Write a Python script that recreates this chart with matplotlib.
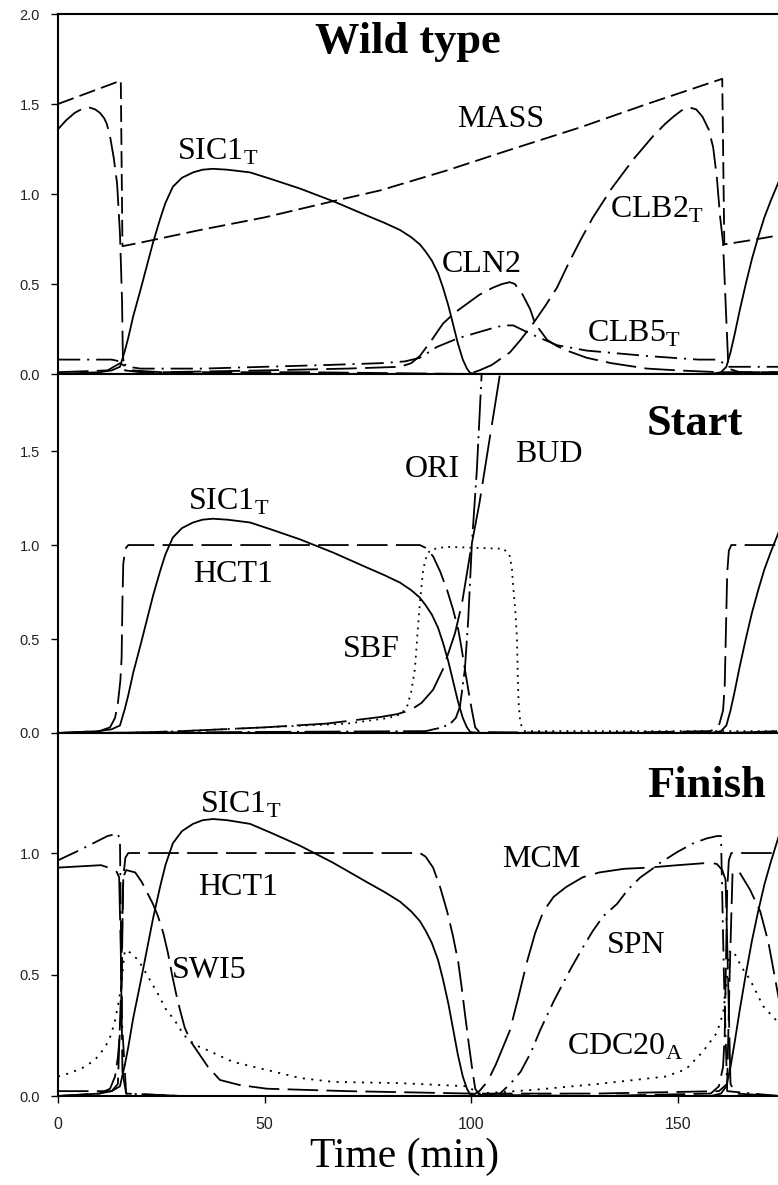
import numpy as np
import matplotlib
matplotlib.use("Agg")
import matplotlib.pyplot as plt

plt.rcParams['font.family'] = ['Liberation Serif', 'DejaVu Serif']
plt.rcParams['mathtext.fontset'] = 'custom'
plt.rcParams['mathtext.rm'] = 'Liberation Serif'
plt.rcParams['lines.scale_dashes'] = False

nan = float('nan')

# ---- Wild type panel ----
mass_t = [0, 15.2, 15.6, 20, 34.4, 50, 66.6, 78, 94, 110, 126.4, 142.6, 160.8, 161.3, 166.8, 174.5]
mass_v = [1.50, 1.63, 0.71, 0.73, 0.80, 0.87, 0.96, 1.02, 1.13, 1.25, 1.37, 1.50, 1.64, 0.72, 0.74, 0.77]

clb2_t = [0, 2, 4, 6, 7.7, 9, 10.2, 11.2, 11.8, 12.6, 13.5, 14.3, 15.0, 15.5, 15.7, 16.2, 20, 60,
          99.4, 102, 105, 107.5, 109.4, 112, 115, 118, 120.8, 123.5, 126.4, 129.5, 134, 139.2, 144,
          147, 149, 151, 153, 154.5, 156, 157.5, 158.6, 159.5, 160.3, 161, 161.7, 162.3, 165, 174.5]
clb2_v = [1.36, 1.41, 1.45, 1.475, 1.48, 1.47, 1.45, 1.42, 1.39, 1.32, 1.20, 1.06, 0.78, 0.41, 0.10,
          0.02, 0.01, 0.01, 0.0, 0.02, 0.05, 0.09, 0.12, 0.19, 0.28, 0.38, 0.48, 0.61, 0.74, 0.87, 1.03,
          1.19, 1.32, 1.39, 1.43, 1.465, 1.48, 1.47, 1.43, 1.36, 1.26, 1.09, 0.87, 0.73, 0.35, 0.03,
          0.01, 0.01]

sic1_t = [0, 10, 13, 15, 16.2, 17, 18.2, 20, 21.5, 23, 24.7, 26, 27.8, 30, 32.7, 35, 37.5, 41, 46.5,
          52, 58.6, 66.6, 74.8, 79, 82.8, 85.5, 87.6, 89, 90.5, 92, 93.2, 94.5, 95.6, 96.8, 98, 99,
          99.8, 102, 130, 158, 160.5, 161.8, 162.8, 163.8, 165, 166.5, 168, 169.5, 171, 172.5, 174.5]
sic1_v = [0.0, 0.01, 0.02, 0.04, 0.13, 0.20, 0.32, 0.47, 0.60, 0.73, 0.86, 0.95, 1.04, 1.09, 1.12,
          1.135, 1.14, 1.135, 1.12, 1.08, 1.03, 0.96, 0.88, 0.84, 0.80, 0.76, 0.72, 0.68, 0.63, 0.56,
          0.48, 0.38, 0.28, 0.17, 0.08, 0.03, 0.005, 0.0, 0.0, 0.0, 0.01, 0.04, 0.12, 0.22, 0.35, 0.50,
          0.64, 0.76, 0.87, 0.96, 1.07]

cln2_t = [0, 12, 15, 18, 25, 50, 70, 82.8, 85.5, 87.6, 90.5, 93.2, 96, 99, 102, 105.3, 107.5, 109.4,
          110.6, 112.5, 114.3, 115.5, 118.4, 120.8, 123.2, 128, 134, 142.6, 150, 160, 163, 174.5]
cln2_v = [0.01, 0.02, 0.06, 0.02, 0.01, 0.02, 0.03, 0.04, 0.06, 0.10, 0.19, 0.28, 0.34, 0.39, 0.44,
          0.48, 0.50, 0.51, 0.50, 0.44, 0.36, 0.28, 0.19, 0.155, 0.13, 0.09, 0.06, 0.03, 0.02, 0.01,
          0.01, 0.01]

clb5_t = [0, 13, 15, 17, 20, 35, 50, 65, 78, 84, 87.6, 91.7, 97, 103, 106, 108, 110.2, 112, 113.8,
          115.7, 120.8, 128, 142.6, 155, 160, 162, 164, 174.5]
clb5_v = [0.08, 0.08, 0.07, 0.04, 0.03, 0.03, 0.04, 0.05, 0.06, 0.07, 0.09, 0.15, 0.20, 0.24, 0.26,
          0.27, 0.27, 0.25, 0.23, 0.21, 0.16, 0.13, 0.10, 0.08, 0.08, 0.04, 0.04, 0.04]

# ---- Start panel ----
hct1_t = [0, 10, 12.6, 13.8, 14.5, 15.1, 15.4, 15.6, 15.8, 16.3, 17, 30, 60, 87.6, 89, 90.8, 92.5,
          94.2, 95.6, 96.9, 97.7, 98.5, 99.4, 100.2, 101, 102, 130, 158, 160, 161, 161.4, 161.7,
          162, 162.4, 163, 174.5]
hct1_v = [0.0, 0.01, 0.03, 0.08, 0.16, 0.28, 0.40, 0.70, 0.90, 0.98, 1.0, 1.0, 1.0, 1.0, 0.985, 0.94,
          0.86, 0.76, 0.66, 0.55, 0.45, 0.34, 0.22, 0.12, 0.03, 0.005, 0.0, 0.01, 0.04, 0.12, 0.25,
          0.55, 0.85, 0.97, 1.0, 1.0]

sbf_t = [0, 16, 30, 50, 70, 80, 83, 84.5, 85.5, 86.4, 87, 87.6, 88.4, 89.2, 90, 92, 95, 107.8, 108.8,
         109.4, 109.9, 110.2, 110.7, 111.1, 111.3, 111.5, 111.9, 112.3, 113, 140, 160, 174.5]
sbf_v = [0.0, 0.0, 0.01, 0.03, 0.05, 0.08, 0.10, 0.14, 0.22, 0.34, 0.52, 0.69, 0.87, 0.94, 0.97, 0.985,
         0.99, 0.98, 0.96, 0.94, 0.87, 0.78, 0.65, 0.51, 0.30, 0.16, 0.06, 0.03, 0.01, 0.01, 0.01, 0.01]

bud_t = [0, 16, 30, 50, 65, 78, 82, 85.2, 88, 90.8, 93.2, 96.1, 97.8, 100.2, 102, 104.6, 107, 108,
         150, 162, 174.5]
bud_v = [0, 0, 0.01, 0.03, 0.05, 0.085, 0.10, 0.12, 0.16, 0.23, 0.34, 0.53, 0.69, 1.01, 1.22, 1.58,
         1.91, 2.05, nan, 0.0, 0.01]

ori_t = [0, 89, 93, 95, 96.3, 97.3, 98.5, 99.3, 100.2, 101.4, 102.6, 103, 150, 162, 174.5]
ori_v = [0, 0.01, 0.03, 0.05, 0.08, 0.14, 0.34, 0.60, 1.01, 1.40, 1.93, 2.05, nan, 0.0, 0.0]

# ---- Finish panel ----
mcm_t = [0, 10.4, 14, 14.8, 15.2, 15.6, 16.5, 30, 60, 100, 100.5, 102, 104, 106, 109.4, 111.5, 113.5,
         115.5, 117.5, 120, 123, 127, 131, 137, 143, 150, 157.9, 159.5, 160.8, 161.6, 162.2, 162.8,
         164, 174.5]
mcm_v = [0.94, 0.95, 0.93, 0.90, 0.6, 0.1, 0.01, 0.0, 0.0, 0.0, 0.005, 0.02, 0.06, 0.13, 0.27, 0.41,
         0.55, 0.67, 0.76, 0.82, 0.86, 0.90, 0.92, 0.935, 0.94, 0.95, 0.96, 0.955, 0.93, 0.89, 0.5,
         0.05, 0.01, 0.0]

spn_t = [0, 5, 12, 14.5, 15.0, 15.5, 16.5, 30, 60, 100, 107, 109.5, 112, 114.5, 116.7, 120, 124, 127,
         129.5, 132, 135.3, 138, 141, 143.5, 145.8, 150, 153.8, 157, 159.6, 160.5, 161.2, 162, 174.5]
spn_v = [0.97, 1.01, 1.07, 1.08, 1.05, 0.3, 0.01, 0.0, 0.0, 0.0, 0.01, 0.05, 0.10, 0.18, 0.27, 0.39,
         0.52, 0.61, 0.68, 0.74, 0.79, 0.85, 0.90, 0.93, 0.96, 1.005, 1.04, 1.06, 1.07, 1.07, 0.5, 0.02,
         0.0]

swi5_t = [0, 13, 14.5, 15.2, 15.8, 16.5, 18.7, 20.3, 21.8, 23, 24.2, 25.5, 26.6, 27.6, 28.6, 29.6,
          30.7, 32.3, 33.9, 36.3, 39.2, 44, 50.6, 70, 100, 130, 160, 162, 162.6, 163.3, 165, 167.5,
          170, 172, 174.5]
swi5_v = [0.02, 0.02, 0.05, 0.4, 0.9, 0.93, 0.92, 0.88, 0.83, 0.79, 0.74, 0.67, 0.59, 0.50, 0.42,
          0.35, 0.28, 0.22, 0.18, 0.12, 0.066, 0.045, 0.03, 0.02, 0.01, 0.01, 0.02, 0.05, 0.5, 0.92,
          0.92, 0.85, 0.76, 0.63, 0.40]

cdc20_t = [0, 3, 6.5, 9, 11.4, 12.8, 13.8, 14.6, 15.3, 15.8, 16.2, 17.5, 19.4, 21.5, 24.2, 26, 28.3,
           30.5, 33.2, 36, 42.4, 50.6, 58.6, 66.6, 82.8, 99, 101, 102, 115, 131, 147, 152, 156, 159.5,
           161, 161.8, 162.3, 162.7, 164, 165.5, 167.5, 170.7, 174.5]
cdc20_v = [0.08, 0.095, 0.12, 0.15, 0.20, 0.25, 0.31, 0.38, 0.45, 0.54, 0.60, 0.59, 0.56, 0.50, 0.42,
           0.36, 0.31, 0.25, 0.21, 0.19, 0.14, 0.107, 0.074, 0.058, 0.053, 0.04, 0.02, 0.01, 0.025,
           0.05, 0.08, 0.11, 0.18, 0.26, 0.34, 0.45, 0.56, 0.60, 0.58, 0.53, 0.48, 0.37, 0.30]

xticks = [0, 50, 100, 150]
yticks_wt = [0.0, 0.5, 1.0, 1.5, 2.0]
yticks_start = [0.0, 0.5, 1.0, 1.5]
yticks_finish = [0.0, 0.5, 1.0]

# line styles
SOLID = '-'
LONG = (0, (22, 6))
MED = (0, (12, 4.5))
VLONG = (0, (36, 7))
DASHDOT = (0, (16, 5, 1.5, 5))
DASHDOT_L = (0, (26, 4, 1.5, 4))
DOT = (0, (1.3, 3.8))
DOT2 = (0, (1.5, 4.6))

fig = plt.figure(figsize=(7.78, 11.85), dpi=100)
left = 58 / 778
width = 720 / 778
ax1 = fig.add_axes([left, 1 - 374 / 1185, width, 360 / 1185])
ax2 = fig.add_axes([left, 1 - 733 / 1185, width, 359 / 1185])
ax3 = fig.add_axes([left, 1 - 1096 / 1185, width, 363 / 1185])

lw = 1.3
kw = dict(color='black', lw=lw)

ax1.plot(mass_t, mass_v, ls=MED, **kw)
ax1.plot(clb2_t, clb2_v, ls=LONG, **kw)
ax1.plot(sic1_t, sic1_v, ls=SOLID, **kw)
ax1.plot(cln2_t, cln2_v, ls=LONG, **kw)
ax1.plot(clb5_t, clb5_v, ls=DASHDOT, **kw)

ax2.plot(sic1_t, sic1_v, ls=SOLID, **kw)
ax2.plot(hct1_t, hct1_v, ls=LONG, **kw)
ax2.plot(sbf_t, sbf_v, ls=DOT, **kw)
ax2.plot(bud_t, bud_v, ls=VLONG, **kw)
ax2.plot(ori_t, ori_v, ls=DASHDOT_L, **kw)

ax3.plot(sic1_t, sic1_v, ls=SOLID, **kw)
ax3.plot(hct1_t, hct1_v, ls=LONG, **kw)
ax3.plot(mcm_t, mcm_v, ls=VLONG, **kw)
ax3.plot(spn_t, spn_v, ls=DASHDOT, **kw)
ax3.plot(swi5_t, swi5_v, ls=LONG, **kw)
ax3.plot(cdc20_t, cdc20_v, ls=DOT2, **kw)

for ax, yt, ylim in [(ax1, yticks_wt, 2.0), (ax2, yticks_start, 1.91), (ax3, yticks_finish, 1.494)]:
    ax.set_xlim(0, 174.3)
    ax.set_ylim(0, ylim)
    ax.set_yticks(yt)
    ax.set_yticklabels(['%.1f' % v for v in yt], family='Liberation Sans', fontsize=10.5, color='#222222')
    ax.set_xticks(xticks)
    ax.tick_params(direction='out', length=5, width=1, pad=8)
    ax.spines['right'].set_visible(False)
    for s in ['left', 'bottom', 'top']:
        ax.spines[s].set_linewidth(1.5)
ax1.tick_params(axis='x', labelbottom=False)
ax2.tick_params(axis='x', labelbottom=False)
ax3.set_xticklabels([str(v) for v in xticks], family='Liberation Sans', fontsize=11.5, color='#222222')
ax3.tick_params(axis='x', pad=10)

lab = dict(fontsize=23, ha='left', va='baseline')
ttl = dict(fontsize=32, fontweight='bold', ha='left', va='baseline')

ax1.text(28.8, 1.19, r'SIC1$_{\mathrm{T}}$', **lab)
ax1.text(96.6, 1.37, 'MASS', **lab)
ax1.text(133.7, 0.867, r'CLB2$_{\mathrm{T}}$', **lab)
ax1.text(93, 0.567, 'CLN2', **lab)
ax1.text(128.1, 0.178, r'CLB5$_{\mathrm{T}}$', **lab)
ax1.text(62.2, 1.783, 'Wild type', **ttl)

ax2.text(84, 1.36, 'ORI', **lab)
ax2.text(110.6, 1.44, 'BUD', **lab)
ax2.text(31.5, 1.186, r'SIC1$_{\mathrm{T}}$', **lab)
ax2.text(32.7, 0.803, 'HCT1', **lab)
ax2.text(69, 0.404, 'SBF', **lab)
ax2.text(142.6, 1.585, 'Start', **ttl)

ax3.text(34.4, 1.165, r'SIC1$_{\mathrm{T}}$', **lab)
ax3.text(33.9, 0.827, 'HCT1', **lab)
ax3.text(27.6, 0.486, 'SWI5', **lab)
ax3.text(107.5, 0.942, 'MCM', **lab)
ax3.text(132.9, 0.588, 'SPN', **lab)
ax3.text(123.2, 0.169, r'CDC20$_{\mathrm{A}}$', **lab)
ax3.text(142.6, 1.230, 'Finish', **ttl)

fig.text(405 / 778, 1 - 1167 / 1185, 'Time (min)', fontsize=30, ha='center', va='baseline')

fig.savefig('out.png', dpi=100)
